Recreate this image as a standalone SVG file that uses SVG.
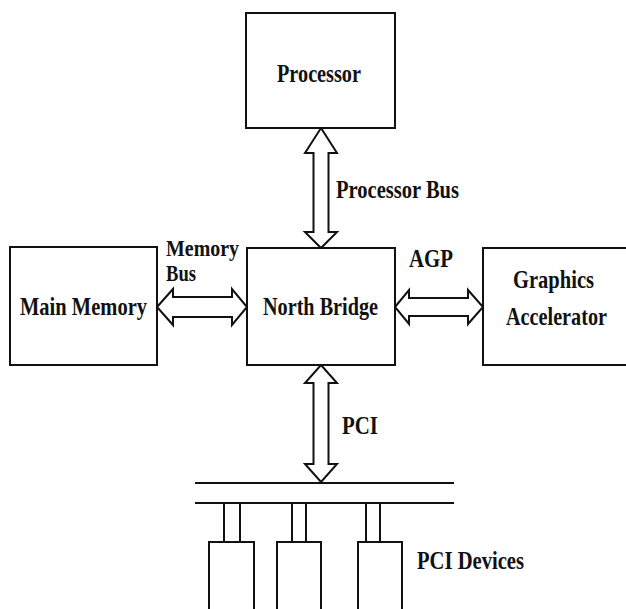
<svg xmlns="http://www.w3.org/2000/svg" width="626" height="609" viewBox="0 0 626 609">
  <style>
    .box { fill: #fff; stroke: #111; stroke-width: 2; }
    .arrow { fill: #fff; stroke: #111; stroke-width: 2; stroke-linejoin: miter; }
    .bus { stroke: #111; stroke-width: 2; fill: none; }
    .lbl { font-family: "Liberation Serif", "Times New Roman", serif; font-weight: bold; font-size: 25px; fill: #111; }
    .tight { font-size: 23px; }
  </style>
  <rect width="626" height="609" fill="#fff"/>

  <!-- bus connectors -->
  <g id="connectors">
    <!-- processor bus -->
    <polygon class="arrow" points="321,128 337,153 328.5,153 328.5,232 337,232 321,248 305,232 313.5,232 313.5,153 305,153"/>
    <!-- memory bus -->
    <polygon class="arrow" points="157,307 173,289 173,297 232,297 232,289 247,307 232,325 232,317 173,317 173,325"/>
    <!-- AGP -->
    <polygon class="arrow" points="395,307 409,290 409,298 468,298 468,290 483,307 468,324 468,316 409,316 409,324"/>
    <!-- PCI -->
    <polygon class="arrow" points="321,365 337,383 328.5,383 328.5,464 337,464 321,482 305,464 313.5,464 313.5,383 305,383"/>
    <!-- PCI bus rails -->
    <line class="bus" x1="195" y1="483" x2="454" y2="483"/>
    <line class="bus" x1="195" y1="503" x2="454" y2="503"/>
    <!-- device stubs -->
    <path class="bus" d="M224,503 V542 M240,503 V542 M292,503 V542 M306,503 V542 M366,503 V542 M380,503 V542"/>
  </g>

  <g id="processor">
    <rect class="box" x="246" y="13" width="149" height="115"/>
    <text class="lbl" x="277" y="82" textLength="84" lengthAdjust="spacingAndGlyphs">Processor</text>
  </g>

  <g id="north-bridge">
    <rect class="box" x="247" y="248" width="148" height="117"/>
    <text class="lbl" x="263" y="315" textLength="115" lengthAdjust="spacingAndGlyphs">North Bridge</text>
  </g>

  <g id="main-memory">
    <rect class="box" x="10" y="247" width="147" height="118"/>
    <text class="lbl" x="20" y="315" textLength="127" lengthAdjust="spacingAndGlyphs">Main Memory</text>
  </g>

  <g id="graphics-accelerator">
    <rect class="box" x="483" y="248" width="150" height="117"/>
    <text class="lbl" x="513" y="288" textLength="81" lengthAdjust="spacingAndGlyphs">Graphics</text>
    <text class="lbl" x="506" y="325" textLength="101" lengthAdjust="spacingAndGlyphs">Accelerator</text>
  </g>

  <g id="pci-devices">
    <rect class="box" x="209" y="542" width="45" height="75"/>
    <rect class="box" x="277" y="542" width="44" height="75"/>
    <rect class="box" x="358" y="542" width="44" height="75"/>
    <text class="lbl" x="417" y="569" textLength="107" lengthAdjust="spacingAndGlyphs">PCI Devices</text>
  </g>

  <!-- bus labels -->
  <g id="labels">
    <text class="lbl" x="336" y="198" textLength="123" lengthAdjust="spacingAndGlyphs">Processor Bus</text>
    <text class="lbl tight" x="166" y="256" textLength="73" lengthAdjust="spacingAndGlyphs">Memory</text>
    <text class="lbl tight" x="166" y="281" textLength="30" lengthAdjust="spacingAndGlyphs">Bus</text>
    <text class="lbl" x="409" y="267" textLength="44" lengthAdjust="spacingAndGlyphs">AGP</text>
    <text class="lbl" x="342" y="434" textLength="36" lengthAdjust="spacingAndGlyphs">PCI</text>
  </g>
</svg>
